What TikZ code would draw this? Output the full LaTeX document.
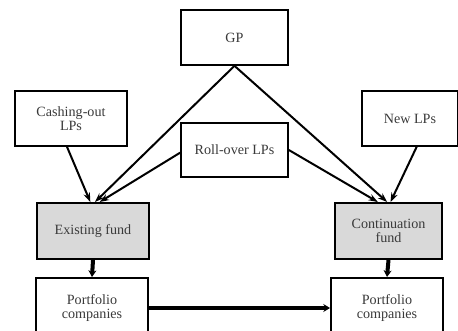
\documentclass[tikz,border=0pt]{standalone}
\usepackage{fontspec}
\setmainfont{Liberation Serif}
\usetikzlibrary{arrows.meta}
\definecolor{fundfill}{HTML}{D9D9D9}
\definecolor{textcol}{HTML}{3A3A3A}

\begin{document}
\begin{tikzpicture}[
  x=0.75pt, y=-0.75pt, >={Stealth[length=7pt,width=5pt]},
  font=\fontsize{10.6}{11}\selectfont,
  party/.style={draw, line width=1.5pt, fill=white, text=textcol,
    minimum width=80pt, minimum height=41pt, align=center, inner sep=2pt},
  fund/.style={party, fill=fundfill},
  flow/.style={->, line width=1.5pt},
  bigflow/.style={-{Stealth[length=5pt,width=6pt]}, line width=3pt}
]
\useasboundingbox (0,0) rectangle (458,330);

% parties
\node[party] (gp) at (234.5,37.5) {GP};
\node[party, minimum width=84pt] (cashout) at (71,118.5) {Cashing-out\\LPs};
\node[party, minimum width=72pt] (newlp) at (410,118.5) {New LPs};
\node[party] (rollover) at (234.5,150) {Roll-over LPs};

% funds
\node[fund, minimum width=84pt, minimum height=42pt] (existing) at (93,231) {Existing fund};
\node[fund, minimum height=42pt] (contfund) at (388.5,231) {Continuation\\fund};

% portfolios
\node[party, minimum width=84pt, minimum height=45pt] (portleft) at (92,308) {Portfolio\\companies};
\node[party, minimum width=84pt, minimum height=45pt] (portright) at (387,308) {Portfolio\\companies};

% flows into the funds
\draw[flow] (gp.south) -- ([xshift=1.5pt]existing.north);
\draw[flow] (gp.south) -- ([xshift=-1pt]contfund.north);
\draw[flow] ([xshift=-3pt]cashout.south) -- ([xshift=-2pt]existing.north);
\draw[flow] ([yshift=-2pt]rollover.west) -- ([xshift=5pt]existing.north);
\draw[flow] (rollover.east) -- ([xshift=-8pt]contfund.north);
\draw[flow] ([xshift=5pt]newlp.south) -- ([xshift=1.5pt]contfund.north);

% holdings
\draw[bigflow] (existing.south) -- (portleft.north);
\draw[bigflow] (contfund.south) -- (portright.north);
\draw[bigflow] (portleft.east) -- (portright.west);
\end{tikzpicture}
\end{document}
